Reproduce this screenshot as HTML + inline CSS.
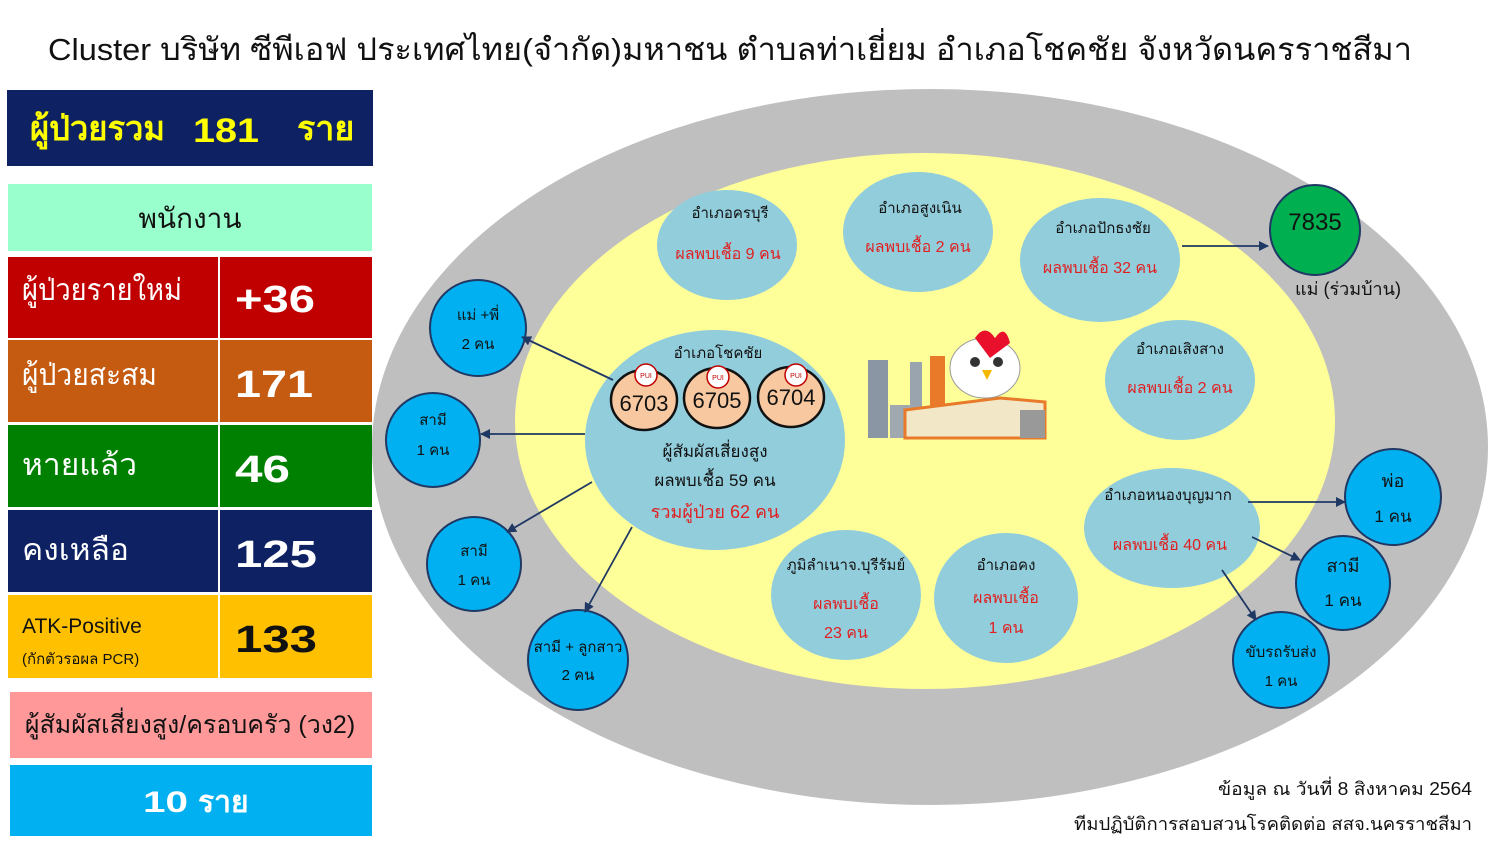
<!DOCTYPE html>
<html><head><meta charset="utf-8"><style>
body{margin:0;width:1491px;height:860px;background:#fff;overflow:hidden;font-family:"Liberation Sans","Noto Sans CJK SC",sans-serif;}
</style></head><body>
<svg width="1491" height="860" xmlns="http://www.w3.org/2000/svg" font-family="Liberation Sans, DejaVu Sans, sans-serif">
<defs><marker id="a" markerWidth="10" markerHeight="10" refX="9" refY="5" orient="auto" markerUnits="userSpaceOnUse"><path d="M0,0 L10,5 L0,10 z" fill="#1f3864"/></marker></defs>
<text x="730" y="60" font-size="31" text-anchor="middle" fill="#111" textLength="1364" lengthAdjust="spacingAndGlyphs">Cluster บริษัท ซีพีเอฟ ประเทศไทย(จำกัด)มหาชน ตำบลท่าเยี่ยม อำเภอโชคชัย จังหวัดนครราชสีมา</text>
<rect x="7" y="90" width="366" height="76" fill="#0d2163"/>
<g font-size="34" font-weight="bold" fill="#ffff00">
<text x="30" y="140" textLength="135" lengthAdjust="spacingAndGlyphs">ผู้ป่วยรวม</text>
<text x="193" y="142" textLength="66" lengthAdjust="spacingAndGlyphs">181</text>
<text x="297" y="140">ราย</text>
</g>
<rect x="8" y="184" width="364" height="67" fill="#99ffcc"/>
<text x="190" y="228" font-size="28" fill="#111" text-anchor="middle">พนักงาน</text>
<rect x="8" y="257" width="210" height="81" fill="#c00000"/><rect x="220" y="257" width="152" height="81" fill="#c00000"/>
<rect x="8" y="340" width="210" height="82" fill="#c55a11"/><rect x="220" y="340" width="152" height="82" fill="#c55a11"/>
<rect x="8" y="425" width="210" height="82" fill="#008000"/><rect x="220" y="425" width="152" height="82" fill="#008000"/>
<rect x="8" y="510" width="210" height="82" fill="#0d2163"/><rect x="220" y="510" width="152" height="82" fill="#0d2163"/>
<rect x="8" y="595" width="210" height="83" fill="#ffc000"/><rect x="220" y="595" width="152" height="83" fill="#ffc000"/>
<g fill="#fff" font-size="30">
<text x="22" y="300" textLength="160" lengthAdjust="spacingAndGlyphs">ผู้ป่วยรายใหม่</text><text x="22" y="385" textLength="135" lengthAdjust="spacingAndGlyphs">ผู้ป่วยสะสม</text><text x="22" y="475" textLength="115" lengthAdjust="spacingAndGlyphs">หายแล้ว</text><text x="22" y="560" textLength="107" lengthAdjust="spacingAndGlyphs">คงเหลือ</text>
</g>
<g fill="#fff" font-size="38" font-weight="bold">
<text x="235" y="312" textLength="80" lengthAdjust="spacingAndGlyphs">+36</text><text x="235" y="397" textLength="78" lengthAdjust="spacingAndGlyphs">171</text><text x="235" y="482" textLength="55" lengthAdjust="spacingAndGlyphs">46</text><text x="235" y="567" textLength="82" lengthAdjust="spacingAndGlyphs">125</text>
</g>
<text x="22" y="633" font-size="21" fill="#111">ATK-Positive</text>
<text x="22" y="664" font-size="15" fill="#111">(กักตัวรอผล PCR)</text>
<text x="235" y="652" font-size="38" font-weight="bold" fill="#111" textLength="82" lengthAdjust="spacingAndGlyphs">133</text>
<rect x="10" y="692" width="362" height="66" fill="#ff9999"/>
<text x="190" y="733" font-size="25" fill="#111" text-anchor="middle">ผู้สัมผัสเสี่ยงสูง/ครอบครัว (วง2)</text>
<rect x="10" y="765" width="362" height="71" fill="#00b0f0"/>
<g font-size="30" font-weight="bold" fill="#fff"><text x="143" y="812" textLength="45" lengthAdjust="spacingAndGlyphs">10</text><text x="198" y="812">ราย</text></g>
<ellipse cx="930" cy="447" rx="558" ry="358" fill="#bfbfbf"/>
<ellipse cx="925" cy="421" rx="410" ry="268" fill="#ffff99"/>
<g fill="#92cddc">
<ellipse cx="727" cy="245" rx="70" ry="55"/><ellipse cx="918" cy="232" rx="75" ry="60"/>
<ellipse cx="1100" cy="260" rx="80" ry="62"/><ellipse cx="1180" cy="380" rx="75" ry="60"/>
<ellipse cx="1172" cy="528" rx="88" ry="60"/><ellipse cx="1006" cy="598" rx="72" ry="65"/>
<ellipse cx="846" cy="595" rx="75" ry="65"/><ellipse cx="715" cy="440" rx="130" ry="110"/>
</g>
<circle cx="1315" cy="230" r="45" fill="#00b050" stroke="#1f3864" stroke-width="2"/>
<text x="1315" y="230" font-size="24" text-anchor="middle" fill="#111">7835</text>
<text x="1348" y="295" font-size="18" text-anchor="middle" fill="#111">แม่ (ร่วมบ้าน)</text>
<g fill="#00b0f0" stroke="#1f3864" stroke-width="2">
<circle cx="478" cy="328" r="48"/><circle cx="433" cy="440" r="47"/><circle cx="474" cy="564" r="47"/><circle cx="578" cy="660" r="50"/>
<circle cx="1393" cy="497" r="48"/><circle cx="1343" cy="583" r="47"/><circle cx="1281" cy="660" r="48"/>
</g>
<g font-size="15" fill="#111" text-anchor="middle">
<text x="478" y="320">แม่ +พี่</text><text x="478" y="349">2 คน</text>
<text x="433" y="425">สามี</text><text x="433" y="455">1 คน</text>
<text x="474" y="556">สามี</text><text x="474" y="585">1 คน</text>
<text x="578" y="652">สามี + ลูกสาว</text><text x="578" y="680">2 คน</text>
<text x="1393" y="487" font-size="18">พ่อ</text><text x="1393" y="522" font-size="17">1 คน</text>
<text x="1343" y="572" font-size="18">สามี</text><text x="1343" y="606" font-size="17">1 คน</text>
<text x="1281" y="657">ขับรถรับส่ง</text><text x="1281" y="686">1 คน</text>
<text x="730" y="218">อำเภอครบุรี</text><text x="920" y="213">อำเภอสูงเนิน</text><text x="1103" y="233">อำเภอปักธงชัย</text>
<text x="1180" y="354">อำเภอเสิงสาง</text><text x="1168" y="500">อำเภอหนองบุญมาก</text>
<text x="1006" y="570">อำเภอคง</text><text x="846" y="570">ภูมิลำเนาจ.บุรีรัมย์</text>
<text x="718" y="358">อำเภอโชคชัย</text>
<text x="715" y="457" font-size="17">ผู้สัมผัสเสี่ยงสูง</text><text x="715" y="486" font-size="17">ผลพบเชื้อ 59 คน</text>
</g>
<g font-size="16" fill="#e02020" text-anchor="middle">
<text x="728" y="259">ผลพบเชื้อ 9 คน</text><text x="918" y="252">ผลพบเชื้อ 2 คน</text><text x="1100" y="273">ผลพบเชื้อ 32 คน</text>
<text x="1180" y="393">ผลพบเชื้อ 2 คน</text><text x="1170" y="550">ผลพบเชื้อ 40 คน</text>
<text x="1006" y="603">ผลพบเชื้อ</text><text x="1006" y="633">1 คน</text>
<text x="846" y="609">ผลพบเชื้อ</text><text x="846" y="638">23 คน</text>
<text x="715" y="518" font-size="18">รวมผู้ป่วย 62 คน</text>
</g>
<g stroke="#111" stroke-width="2.5" fill="#f8c9a0">
<ellipse cx="644" cy="400" rx="33" ry="30"/><ellipse cx="717" cy="398" rx="33" ry="30"/><ellipse cx="791" cy="397" rx="33" ry="30"/>
</g>
<g fill="#fff" stroke="#c00000" stroke-width="1.5"><circle cx="646" cy="375" r="11"/><circle cx="718" cy="377" r="11"/><circle cx="796" cy="375" r="11"/></g>
<g font-size="7" fill="#c00000" text-anchor="middle"><text x="646" y="378">PUI</text><text x="718" y="380">PUI</text><text x="796" y="378">PUI</text></g>
<g font-size="22" fill="#111" text-anchor="middle"><text x="644" y="411">6703</text><text x="717" y="408">6705</text><text x="791" y="405">6704</text></g>
<rect x="868" y="360" width="20" height="78" fill="#8a96a3"/><rect x="910" y="362" width="12" height="48" fill="#9aa4ae"/>
<rect x="930" y="356" width="15" height="60" fill="#e87a2a"/><rect x="890" y="405" width="22" height="33" fill="#a0a8b0"/>
<polygon points="905,410 1000,398 1045,402 1045,438 905,438" fill="#f2e8c8" stroke="#e87a2a" stroke-width="3"/>
<rect x="1020" y="410" width="25" height="28" fill="#999"/>
<ellipse cx="985" cy="368" rx="35" ry="30" fill="#fff" stroke="#999"/>
<path d="M975,338 q10,-15 20,0 q10,-15 15,5 l-20,15z" fill="#e8102a"/>
<circle cx="975" cy="362" r="5" fill="#333"/><circle cx="998" cy="362" r="5" fill="#333"/>
<polygon points="982,370 992,370 987,380" fill="#f5b800"/>
<g stroke="#1f3864" stroke-width="1.8" fill="none" marker-end="url(#a)">
<line x1="613" y1="380" x2="522" y2="337"/>
<line x1="585" y1="434" x2="481" y2="434"/>
<line x1="592" y1="482" x2="507" y2="532"/>
<line x1="632" y1="527" x2="585" y2="612"/>
<line x1="1182" y1="246" x2="1268" y2="246"/>
<line x1="1248" y1="502" x2="1345" y2="502"/>
<line x1="1252" y1="537" x2="1300" y2="560"/>
<line x1="1222" y1="570" x2="1256" y2="620"/>
</g>
<g font-size="18" fill="#111" text-anchor="end">
<text x="1472" y="795" textLength="254" lengthAdjust="spacingAndGlyphs">ข้อมูล ณ วันที่ 8 สิงหาคม  2564</text>
<text x="1472" y="830" textLength="398" lengthAdjust="spacingAndGlyphs">ทีมปฏิบัติการสอบสวนโรคติดต่อ  สสจ.นครราชสีมา</text>
</g>
</svg>
</body></html>
